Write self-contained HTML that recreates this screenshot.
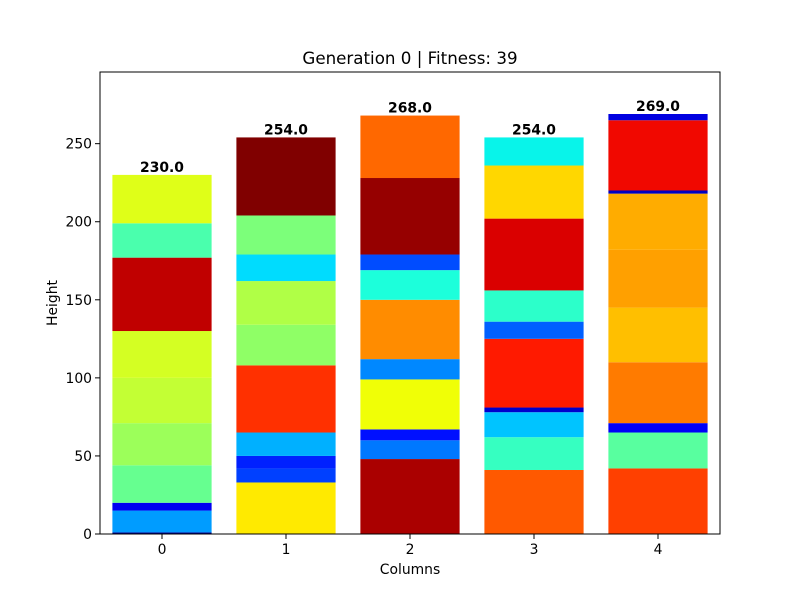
<!DOCTYPE html>
<html><head><meta charset="utf-8"><style>
html,body{margin:0;padding:0;background:#fff;}
svg{display:block;font-family:"DejaVu Sans","Liberation Sans",sans-serif;}
</style></head><body>
<svg id="chart" width="800" height="600" viewBox="0 0 800 600">
<rect width="800" height="600" fill="#fff"/>
<g id="bars"></g>
<g id="axes"></g>
<text x="410" y="64" text-anchor="middle" font-size="16.7">Generation 0 | Fitness: 39</text>
<text x="410" y="574" text-anchor="middle" font-size="13.9">Columns</text>
<text x="57" y="303" text-anchor="middle" font-size="13.9" transform="rotate(-90 57 303)">Height</text>
</svg>
<script>
const categories = ["0","1","2","3","4"];
const heights0 = [1,14,5,24,27,29,30,47,22,31];
const heights1 = [33,9,8,15,43,26,28,17,25,50];
const heights2 = [48,12,7,32,13,38,19,10,49,40];
const heights3 = [41,21,16,3,44,11,20,46,34,18];
const heights4 = [42,23,6,39,35,37,36,2,45,4];
const colors0 = ["#00008f","#009cff","#0000f1","#66ff90","#9cff5a","#c3ff34","#d4ff23","#c00000","#4affad","#dfff18"];
const colors1 = ["#ffea00","#0040ff","#0020ff","#00b0ff","#ff3000","#8fff66","#b0ff46","#00dcfe","#7cff7a","#800000"];
const colors2 = ["#aa0000","#0078ff","#0010ff","#f0ff06","#0088ff","#ff8c00","#1cffdb","#004cff","#960000","#ff6800"];
const colors3 = ["#ff5900","#36ffc1","#00c4ff","#0000cd","#ff1a00","#0060ff","#2cffca","#da0000","#ffd700","#08f4ea"];
const colors4 = ["#ff4000","#58ff9f","#0000f8","#ff7b00","#ffbf00","#ffa000","#ffac00","#0000c0","#f10800","#0000e0"];
const yTicks = [0,50,100,150,200,250];

const series = [heights0,heights1,heights2,heights3,heights4];
const palettes = [colors0,colors1,colors2,colors3,colors4];
const NS = "http://www.w3.org/2000/svg";
const L=100,R=720,T=72,B=534;
const totals = series.map(s=>s.reduce((a,b)=>a+b,0));
const yMax = Math.max(...totals)*1.1;
const xS = i => L + (i+0.5)*(R-L)/categories.length;
const yS = v => B - v*(B-T)/yMax;
const bw = 0.8*(R-L)/categories.length;
const bars = document.getElementById('bars');
const axes = document.getElementById('axes');
function mk(tag, attrs, parent){const e=document.createElementNS(NS,tag);for(const k in attrs)e.setAttribute(k,attrs[k]);parent.appendChild(e);return e;}
series.forEach((s,i)=>{
  let cum=0;
  s.forEach((h,j)=>{
    const r=mk('rect',{x:xS(i)-bw/2,y:yS(cum+h),width:bw,height:yS(cum)-yS(cum+h),fill:palettes[i][j]},bars);
    
    
    cum+=h;
  });
  const t=mk('text',{x:xS(i),y:yS(cum)-3,'text-anchor':'middle','font-size':'13.9','font-weight':'bold'},bars);
  t.textContent=totals[i].toFixed(1);
  
  
});
const frame=mk('rect',{x:L,y:T,width:R-L,height:B-T,fill:'none',stroke:'#000','stroke-width':1},axes);


categories.forEach((c,i)=>{
  const tk=mk('line',{x1:xS(i),x2:xS(i),y1:B,y2:B+5,stroke:'#000'},axes);
  
  
  const t=mk('text',{x:xS(i),y:B+20,'text-anchor':'middle','font-size':'13.9'},axes);
  t.textContent=c;
  
  
});
yTicks.forEach(v=>{
  const tk=mk('line',{x1:L-5,x2:L,y1:yS(v),y2:yS(v),stroke:'#000'},axes);
  
  
  const t=mk('text',{x:L-8,y:yS(v)+5,'text-anchor':'end','font-size':'13.9'},axes);
  t.textContent=v;
  
  
});
</script>
</body></html>
